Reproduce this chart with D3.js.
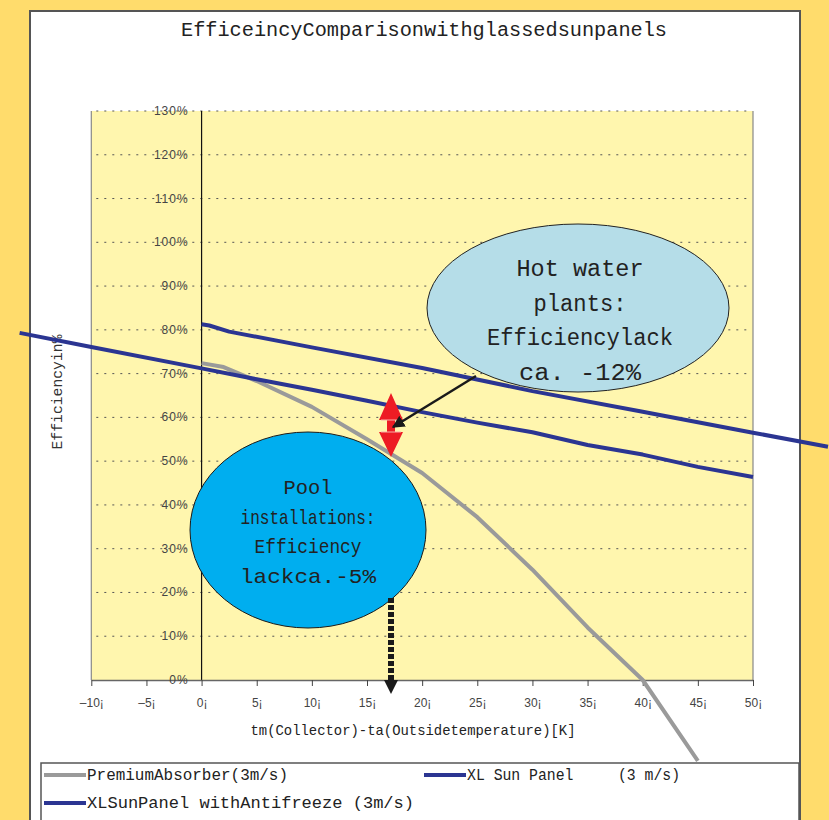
<!DOCTYPE html>
<html>
<head>
<meta charset="utf-8">
<script src="https://cdn.jsdelivr.net/npm/d3@7"></script>
<style>
  html, body { margin: 0; padding: 0; background: #FFDC6C; }
  svg { display: block; }
</style>
</head>
<body>
<script>
// data (x in K, y in fraction)
const premiumX = [0, 2, 5, 10, 15, 20, 25, 30, 35, 40, 45];
const premiumY = [0.724, 0.715, 0.683, 0.624, 0.55, 0.473, 0.372, 0.252, 0.12, 0.0, -0.185];

const xlX = [0, 0.7, 2.5, 10, 20, 30, 40, 50, 56.8];
const xlY = [0.813, 0.81, 0.796, 0.76, 0.713, 0.66, 0.613, 0.565, 0.533];

const antifreezeX = [-16.5, -10, 0, 5, 10, 15, 20, 25, 30, 35, 40, 45, 50];
const antifreezeY = [0.793, 0.761, 0.712, 0.687, 0.663, 0.638, 0.612, 0.588, 0.566, 0.537, 0.515, 0.487, 0.464];

const xTicks = [-10, -5, 0, 5, 10, 15, 20, 25, 30, 35, 40, 45, 50];
const yTicks = [0, 0.1, 0.2, 0.3, 0.4, 0.5, 0.6, 0.7, 0.8, 0.9, 1.0, 1.1, 1.2, 1.3];

const legendLabels = ["PremiumAbsorber(3m/s)", "XL Sun Panel     (3 m/s)", "XLSunPanel withAntifreeze (3m/s)"];
const seriesColors = ["#9a9a9a", "#2b3592", "#2b3592"];

const hotLines = ["Hot water", "plants:", "Efficiencylack", "ca. -12%"];
const hotWidths = [127, 93, 186, 122];
const poolLines = ["Pool", "installations:", "Efficiency", "lackca.-5%"];
const poolWidths = [49, 135, 107, 136];

const width = 829, height = 820;
const mono = "'Liberation Mono', 'DejaVu Sans Mono', monospace";
const sans = "'Liberation Sans', Arial, sans-serif";

const svg = d3.select("body").append("svg")
  .attr("width", width)
  .attr("height", height);

// outer yellow + white chart panel
svg.append("rect").attr("width", width).attr("height", height).attr("fill", "#FFDC6C");
svg.append("rect")
  .attr("x", 30).attr("y", 11).attr("width", 770).attr("height", 830)
  .attr("fill", "#fff").attr("stroke", "#555").attr("stroke-width", 2);

const x = d3.scaleLinear().domain([-10, 50]).range([91.3, 753]);
const y = d3.scaleLinear().domain([0, 1.3]).range([680, 111]);

// plot area
svg.append("rect")
  .attr("x", x(-10)).attr("y", y(1.3))
  .attr("width", x(50) - x(-10)).attr("height", y(0) - y(1.3))
  .attr("fill", "#FFF6AE");
svg.append("line").attr("x1", x(-10)).attr("x2", x(-10)).attr("y1", y(1.3)).attr("y2", y(0))
  .attr("stroke", "#888").attr("stroke-width", 1.2);
svg.append("line").attr("x1", x(50)).attr("x2", x(50)).attr("y1", y(1.3)).attr("y2", y(0))
  .attr("stroke", "#888").attr("stroke-width", 1.2);

// gridlines
svg.append("g")
  .selectAll("line")
  .data(yTicks.filter(d => d > 0))
  .join("line")
  .attr("x1", x(-10) + 5).attr("x2", x(50) - 6)
  .attr("y1", d => y(d)).attr("y2", d => y(d))
  .attr("stroke", "#555")
  .attr("stroke-width", 1)
  .attr("stroke-dasharray", "2,6");

// zero line
svg.append("line").attr("x1", x(0)).attr("x2", x(0)).attr("y1", y(1.3)).attr("y2", y(0))
  .attr("stroke", "#111").attr("stroke-width", 1.2);

// x axis
const xAxis = svg.append("g").attr("transform", `translate(0,${y(0)})`)
  .call(d3.axisBottom(x).tickValues(xTicks).tickSize(6).tickSizeOuter(0)
    .tickFormat(d => (d < 0 ? "\u2013" + Math.abs(d) : d) + "\u00a1"));
xAxis.select(".domain").attr("stroke", "#666").attr("stroke-width", 1.5);
xAxis.selectAll(".tick line").attr("stroke", "#444");
xAxis.selectAll(".tick text")
  .attr("y", 18)
  .attr("fill", "#444")
  .style("font-family", sans).style("font-size", "12px");

// y tick labels (inside plot, left of zero line)
svg.append("g")
  .selectAll("text")
  .data(yTicks)
  .join("text")
  .attr("x", x(0) - 13)
  .attr("y", d => y(d) + 4)
  .attr("text-anchor", "end")
  .attr("fill", "#444")
  .style("font-family", sans).style("font-size", "12px").style("letter-spacing", "1px")
  .text(d => Math.round(d * 100) + "%");

// titles
svg.append("text")
  .attr("x", 424).attr("y", 36)
  .attr("text-anchor", "middle")
  .attr("textLength", 486)
  .attr("lengthAdjust", "spacingAndGlyphs")
  .attr("fill", "#222")
  .style("font-family", mono).style("font-size", "20px")
  .text("EfficeincyComparisonwithglassedsunpanels");

svg.append("text")
  .attr("x", 413).attr("y", 735)
  .attr("text-anchor", "middle")
  .attr("textLength", 325)
  .attr("lengthAdjust", "spacingAndGlyphs")
  .attr("fill", "#222")
  .style("font-family", mono).style("font-size", "15px")
  .text("tm(Collector)-ta(Outsidetemperature)[K]");

svg.append("text")
  .attr("transform", "translate(62,392) rotate(-90)")
  .attr("text-anchor", "middle")
  .attr("textLength", 115)
  .attr("lengthAdjust", "spacingAndGlyphs")
  .attr("fill", "#333")
  .style("font-family", mono).style("font-size", "15px")
  .text("Efficiencyin%");

// series
const line = d3.line().x(d => x(d[0])).y(d => y(d[1]));
const series = [
  d3.zip(premiumX, premiumY),
  d3.zip(xlX, xlY),
  d3.zip(antifreezeX, antifreezeY)
];
svg.append("g")
  .selectAll("path")
  .data(series)
  .join("path")
  .attr("d", line)
  .attr("fill", "none")
  .attr("stroke", (d, i) => seriesColors[i])
  .attr("stroke-width", 4)
  .attr("stroke-linejoin", "round");

// bubbles
svg.append("ellipse")
  .attr("cx", 578).attr("cy", 308).attr("rx", 151).attr("ry", 84)
  .attr("fill", "#B5DDE8").attr("stroke", "#222").attr("stroke-width", 1);
svg.append("g")
  .selectAll("text")
  .data(hotLines)
  .join("text")
  .attr("x", 580)
  .attr("y", (d, i) => 276 + i * 34.5)
  .attr("text-anchor", "middle")
  .attr("textLength", (d, i) => hotWidths[i])
  .attr("lengthAdjust", "spacingAndGlyphs")
  .attr("fill", "#222")
  .style("font-family", mono).style("font-size", "23px")
  .text(d => d);

svg.append("ellipse")
  .attr("cx", 308).attr("cy", 530).attr("rx", 118).attr("ry", 98)
  .attr("fill", "#00AEEF").attr("stroke", "#1a1a1a").attr("stroke-width", 1);
svg.append("g")
  .selectAll("text")
  .data(poolLines)
  .join("text")
  .attr("x", 308)
  .attr("y", (d, i) => 494 + i * 29.5)
  .attr("text-anchor", "middle")
  .attr("textLength", (d, i) => poolWidths[i])
  .attr("lengthAdjust", "spacingAndGlyphs")
  .attr("fill", "#222")
  .style("font-family", mono).style("font-size", "21px")
  .text(d => d);

// red double arrow
const ax = 391;
svg.append("path")
  .attr("d", `M${ax},393 L${ax + 12},420 L${ax + 4},420 L${ax + 4},432 L${ax + 12},432 L${ax},457 L${ax - 12},432 L${ax - 4},432 L${ax - 4},420 L${ax - 12},420 Z`)
  .attr("fill", "#ED1C24");
svg.append("line").attr("x1", ax - 10).attr("x2", ax + 10).attr("y1", 420).attr("y2", 420)
  .attr("stroke", "#f8b0a8").attr("stroke-width", 1);
svg.append("line").attr("x1", ax - 10).attr("x2", ax + 10).attr("y1", 432).attr("y2", 432)
  .attr("stroke", "#f8b0a8").attr("stroke-width", 1);

// black arrow from hot water bubble
svg.append("defs").append("marker")
  .attr("id", "head")
  .attr("viewBox", "0 0 10 10").attr("refX", 9).attr("refY", 5)
  .attr("markerWidth", 5).attr("markerHeight", 5)
  .attr("orient", "auto")
  .append("path").attr("d", "M0,0 L10,5 L0,10 Z").attr("fill", "#1a1a1a");
svg.append("line")
  .attr("x1", 476).attr("y1", 376).attr("x2", 393).attr("y2", 427)
  .attr("stroke", "#1a1a1a").attr("stroke-width", 2.5)
  .attr("marker-end", "url(#head)");

// dotted arrow from pool bubble down to axis
svg.append("line")
  .attr("x1", ax).attr("x2", ax).attr("y1", 598).attr("y2", 681)
  .attr("stroke", "#1a1a1a").attr("stroke-width", 6)
  .attr("stroke-dasharray", "5,2");
svg.append("path")
  .attr("d", `M${ax - 7},680 L${ax + 7},680 L${ax},694 Z`)
  .attr("fill", "#1a1a1a");

// legend
svg.append("rect")
  .attr("x", 41).attr("y", 763).attr("width", 758).attr("height", 80)
  .attr("fill", "#fff").attr("stroke", "#555").attr("stroke-width", 1.5);
const legendPos = [[44, 775, 201], [424, 775, 213], [44, 803, 327]];
const leg = svg.append("g")
  .selectAll("g")
  .data(legendLabels)
  .join("g")
  .attr("transform", (d, i) => `translate(${legendPos[i][0]},${legendPos[i][1]})`);
leg.append("line")
  .attr("x1", 0).attr("x2", 42)
  .attr("stroke", (d, i) => seriesColors[i])
  .attr("stroke-width", 4);
leg.append("text")
  .attr("x", 43).attr("y", 5)
  .attr("textLength", (d, i) => legendPos[i][2])
  .attr("lengthAdjust", "spacingAndGlyphs")
  .attr("fill", "#222")
  .style("font-family", mono).style("font-size", "16px")
  .style("white-space", "pre")
  .text(d => d);
</script>
</body>
</html>
